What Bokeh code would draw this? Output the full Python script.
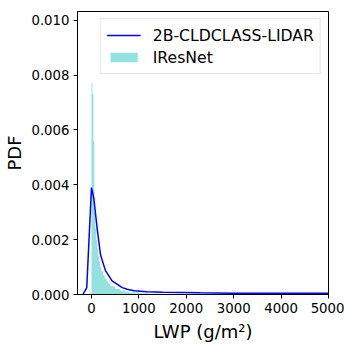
from bokeh.plotting import figure
from bokeh.models import Range1d, FixedTicker, NumeralTickFormatter
from bokeh.embed import file_html
from bokeh.resources import INLINE

# Histogram (IResNet) - bin edges and density
hist_edges = [0, 20, 40, 60, 80, 100, 120, 140, 160, 180, 200, 240, 280, 320, 360,
              400, 500, 600, 700, 800, 1000, 1200, 1500, 2000, 3000, 5000]
hist_pdf = [0.0077, 0.0073, 0.0056, 0.0030, 0.0024, 0.0020, 0.0017, 0.0014, 0.0012,
            0.0010, 0.00085, 0.0007, 0.00058, 0.00048, 0.0004, 0.0003, 0.0002,
            0.00014, 0.0001, 0.00007, 0.00005, 0.00003, 0.00002, 0.00001, 0.000005]

# 2B-CLDCLASS-LIDAR PDF line
line_x = [-180, -100, 0, 50, 120, 190, 295, 435, 650, 750, 900, 1175, 1500, 2300,
          3000, 4000, 5000]
line_pdf = [0.0, 0.00025, 0.0039, 0.0035, 0.0024, 0.00145, 0.00087, 0.0005, 0.00025,
            0.00019, 0.00014, 0.0001, 0.00008, 0.00006, 0.00005, 0.00005, 0.00005]

x_ticks = [0, 1000, 2000, 3000, 4000, 5000]
y_ticks = [0.0, 0.002, 0.004, 0.006, 0.008, 0.010]

# step polygon built from the histogram arrays
px, py = [hist_edges[0]], [0.0]
for i, v in enumerate(hist_pdf):
    px += [hist_edges[i], hist_edges[i + 1]]
    py += [v, v]
px.append(hist_edges[-1])
py.append(0.0)

p = figure(width=344, height=344, output_backend="svg", toolbar_location=None,
           x_range=Range1d(-295, 5000), y_range=Range1d(0, 0.01032),
           min_border_left=77, min_border_right=16, min_border_top=11,
           min_border_bottom=47)

p.patch(px, py, fill_color="#93e2e0", line_color=None, legend_label="IResNet")
p.line(line_x, line_pdf, line_color="#0000ff", line_width=1.5,
       legend_label="2B-CLDCLASS-LIDAR")

items = p.legend[0].items
p.legend[0].items = [items[1], items[0]]

p.xgrid.visible = False
p.ygrid.visible = False
p.outline_line_color = "black"
p.outline_line_width = 1

for ax in (p.xaxis[0], p.yaxis[0]):
    ax.major_tick_out = 4
    ax.major_tick_in = 0
    ax.minor_tick_line_color = None
    ax.axis_line_color = "black"
    ax.major_tick_line_color = "black"
    ax.major_label_text_font = "DejaVu Sans"
    ax.major_label_text_font_size = "13.3px"
    ax.major_label_text_color = "black"
    ax.axis_label_text_font = "DejaVu Sans"
    ax.axis_label_text_font_size = "18px"
    ax.axis_label_text_font_style = "normal"
    ax.axis_label_text_color = "black"

p.xaxis.ticker = FixedTicker(ticks=x_ticks)
p.yaxis.ticker = FixedTicker(ticks=y_ticks)
p.yaxis.formatter = NumeralTickFormatter(format="0.000")
p.xaxis.axis_label = "LWP (g/m²)"
p.yaxis.axis_label = "PDF"
p.xaxis.major_label_standoff = 4
p.yaxis.major_label_standoff = 4
p.yaxis.axis_label_standoff = 3

lg = p.legend[0]
lg.location = "top_right"
lg.margin = 7
lg.label_text_font = "DejaVu Sans"
lg.label_text_font_size = "15.7px"
lg.label_text_color = "black"
lg.glyph_width = 34
lg.glyph_height = 12
lg.label_standoff = 12
lg.spacing = 2
lg.padding = 6
lg.label_height = 20
lg.border_line_color = "#cccccc"
lg.border_line_width = 1
lg.background_fill_alpha = 0.8

open("out.html", "w").write(file_html(p, INLINE))
